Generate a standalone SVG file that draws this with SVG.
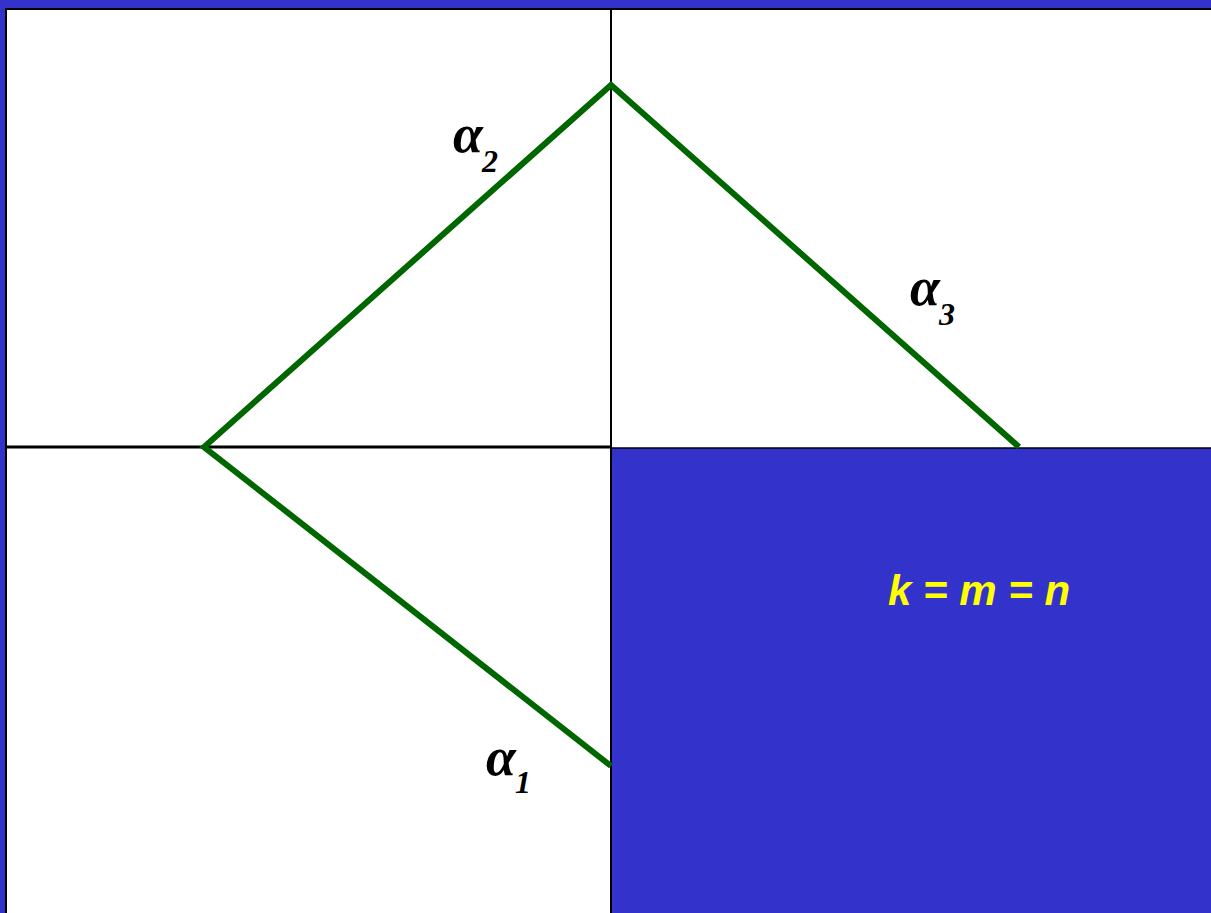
<svg xmlns="http://www.w3.org/2000/svg" width="1211" height="913" viewBox="0 0 1211 913">
<style>
.lbl{font-family:"Liberation Serif",serif;font-weight:bold;font-style:italic;fill:#000}
.a{font-size:54px}
.s{font-size:32px}
.eq{font-family:"Liberation Sans",sans-serif;font-weight:bold;font-style:italic;font-size:42px;fill:#FFFF00}
</style>
<rect x="0" y="0" width="1211" height="913" fill="#3333CC"/>
<g id="panel">
<rect x="6" y="9" width="1210" height="910" fill="#FFFFFF" stroke="#000" stroke-width="2"/>
<rect x="611" y="448" width="600" height="465" fill="#3333CC"/>
<line x1="611" y1="9" x2="611" y2="913" stroke="#000" stroke-width="2"/>
<line x1="7" y1="447" x2="611" y2="447" stroke="#000" stroke-width="3"/>
<line x1="611" y1="448" x2="1211" y2="448" stroke="#000" stroke-width="1.5"/>
</g>
<g id="connectors">
<polyline points="611,766 204,447 611,85 1019,447" fill="none" stroke="#006600" stroke-width="6" stroke-linejoin="miter"/>
</g>
<g id="label-a2"><text class="lbl" x="453" y="152"><tspan class="a">α</tspan><tspan class="s" x="482" y="172">2</tspan></text></g>
<g id="label-a3"><text class="lbl" x="910" y="305"><tspan class="a">α</tspan><tspan class="s" x="939" y="325">3</tspan></text></g>
<g id="label-a1"><text class="lbl" x="486" y="775"><tspan class="a">α</tspan><tspan class="s" x="515" y="793">1</tspan></text></g>
<g id="label-eq"><text class="eq" x="979" y="605" text-anchor="middle">k = m = n</text></g>
</svg>
